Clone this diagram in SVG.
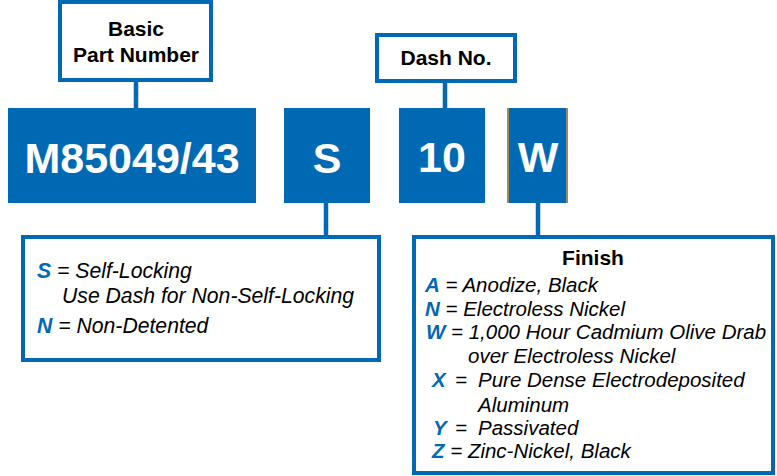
<svg xmlns="http://www.w3.org/2000/svg" width="777" height="476" viewBox="0 0 777 476">
<style>
.box{fill:#fff;stroke:#0069B4;stroke-width:4}
.blk{fill:#0069B4}
.lbl{font-family:"Liberation Sans",Arial,sans-serif;font-weight:bold;font-size:21px;fill:#000;text-anchor:middle}
.big{font-family:"Liberation Sans",Arial,sans-serif;font-weight:bold;font-size:43px;fill:#fff;text-anchor:middle}
.it{font-family:"Liberation Sans",Arial,sans-serif;font-style:italic;font-size:20.5px;fill:#000}
.itl{font-family:"Liberation Sans",Arial,sans-serif;font-style:italic;font-size:21.2px;fill:#000}
.k{font-weight:bold;fill:#0069B4}
.con{stroke:#0069B4;stroke-width:4.5;fill:none}
</style>
<rect width="777" height="476" fill="#fff"/>
<g id="connectors">
<line class="con" x1="136" y1="82" x2="136" y2="109"/>
<line class="con" x1="445" y1="83" x2="445" y2="109"/>
<line class="con" x1="326" y1="202" x2="326" y2="236"/>
<line class="con" x1="538" y1="202" x2="538" y2="236"/>
</g>
<g id="basic">
<rect class="box" x="60" y="2" width="151" height="78"/>
<text class="lbl" x="136" y="36">Basic</text>
<text class="lbl" x="136" y="62">Part Number</text>
</g>
<g id="dash">
<rect class="box" x="377" y="35" width="138" height="46"/>
<text class="lbl" x="446" y="65">Dash No.</text>
</g>
<g id="m85049">
<rect class="blk" x="8" y="108" width="248" height="95"/>
<text class="big" x="132" y="173">M85049/43</text>
</g>
<g id="s">
<rect class="blk" x="284" y="108" width="86" height="95"/>
<text class="big" x="327" y="173">S</text>
</g>
<g id="ten">
<rect class="blk" x="399" y="108" width="86" height="95"/>
<text class="big" x="442" y="172">10</text>
</g>
<g id="w">
<rect class="blk" x="507" y="108" width="61" height="95"/>
<rect x="507" y="108" width="2" height="95" fill="#9A8B5E"/>
<rect x="566" y="108" width="2" height="95" fill="#9A8B5E"/>
<text class="big" x="538" y="172">W</text>
</g>
<g id="locking">
<rect class="box" x="23" y="237" width="356" height="123"/>
<text class="itl" x="37" y="278"><tspan class="k">S</tspan> = Self-Locking</text>
<text class="itl" x="62" y="303">Use Dash for Non-Self-Locking</text>
<text class="itl" x="37" y="333"><tspan class="k">N</tspan> = Non-Detented</text>
</g>
<g id="finish">
<rect class="box" x="414" y="237" width="359" height="236"/>
<text class="lbl" x="593" y="265">Finish</text>
<text class="it" x="425" y="292"><tspan class="k">A</tspan> = Anodize, Black</text>
<text class="it" x="425" y="316"><tspan class="k">N</tspan> = Electroless Nickel</text>
<text class="it" x="426" y="339"><tspan class="k">W</tspan> = 1,000 Hour Cadmium Olive Drab</text>
<text class="it" x="468" y="363">over Electroless Nickel</text>
<text class="it" x="432" y="387"><tspan class="k">X</tspan></text>
<text class="it" x="455" y="387">=</text>
<text class="it" x="478" y="387">Pure Dense Electrodeposited</text>
<text class="it" x="478" y="412">Aluminum</text>
<text class="it" x="433" y="435"><tspan class="k">Y</tspan></text>
<text class="it" x="455" y="435">=</text>
<text class="it" x="478" y="435">Passivated</text>
<text class="it" x="432" y="458"><tspan class="k">Z</tspan> = Zinc-Nickel, Black</text>
</g>
</svg>
